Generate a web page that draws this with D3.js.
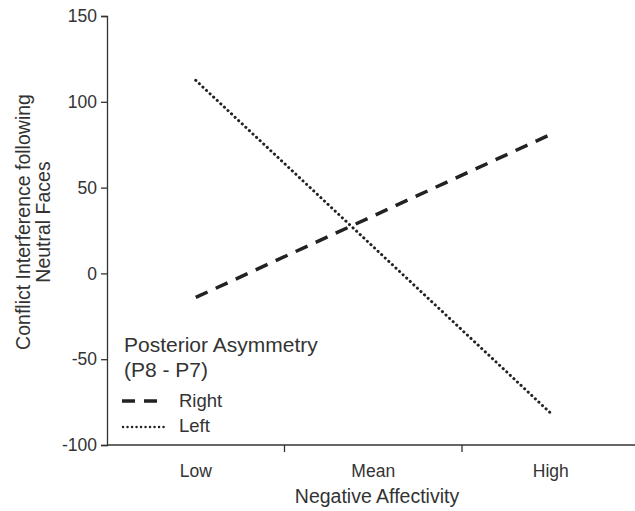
<!DOCTYPE html>
<html>
<head>
<meta charset="utf-8">
<script src="https://cdn.jsdelivr.net/npm/d3@7"></script>
<style>
  body { margin: 0; background: #fff; }
  text { font-family: "Liberation Sans", Arial, sans-serif; fill: #333; }
</style>
</head>
<body>
<div id="vis"></div>
<script>
const width = 635;
const height = 511;

// data
const categories = ['Low', 'Mean', 'High'];
const rightValues = [-14, 33.5, 81];
const leftValues = [112.5, 15.5, -81.5];
const yTicks = [-100, -50, 0, 50, 100, 150];

const margin = {left: 107, top: 16, bottom: 66};

const svg = d3.select('#vis')
    .append('svg')
    .attr('width', width)
    .attr('height', height);

const x = d3.scaleBand()
    .domain(categories)
    .range([margin.left, margin.left + 177.5 * 3]);

const y = d3.scaleLinear()
    .domain([-100, 150])
    .range([height - margin.bottom, margin.top]);

// y axis
const yAxis = svg.append('g')
    .attr('transform', `translate(${margin.left},0)`)
    .call(d3.axisLeft(y).tickValues(yTicks).tickSize(6).tickPadding(4)
        .tickFormat(d => String(d)));
yAxis.selectAll('text').style('font-size', '17.5px').attr('fill', '#333');
yAxis.selectAll('line, path').attr('stroke', '#333').attr('stroke-width', 1.3);

// x axis: ticks sit between categories
const xAxis = svg.append('g')
    .attr('transform', `translate(0,${y(-100)})`);
xAxis.append('line')
    .attr('x1', margin.left).attr('x2', width)
    .attr('stroke', '#333').attr('stroke-width', 1.3);
xAxis.selectAll('.tick')
    .data(categories.slice(1))
    .join('line')
    .attr('x1', d => x(d)).attr('x2', d => x(d))
    .attr('y1', 0).attr('y2', 7)
    .attr('stroke', '#333').attr('stroke-width', 1.3);
xAxis.selectAll('.lab')
    .data(categories)
    .join('text')
    .attr('x', d => x(d) + x.bandwidth() / 2)
    .attr('y', 32)
    .attr('text-anchor', 'middle')
    .style('font-size', '17.5px')
    .text(d => d);

// axis titles
svg.append('text')
    .attr('x', 377).attr('y', 503)
    .attr('text-anchor', 'middle')
    .style('font-size', '19.5px')
    .text('Negative Affectivity');

const yTitle = svg.append('text')
    .attr('transform', 'translate(30,222) rotate(-90)')
    .attr('text-anchor', 'middle')
    .style('font-size', '19.5px');
yTitle.append('tspan').attr('x', 0).attr('dy', 0).text('Conflict Interference following');
yTitle.append('tspan').attr('x', 0).attr('dy', 20).text('Neutral Faces');

// lines
const line = d3.line()
    .x((d, i) => x(categories[i]) + x.bandwidth() / 2)
    .y(d => y(d));

svg.append('path')
    .datum(rightValues)
    .attr('d', line)
    .attr('fill', 'none')
    .attr('stroke', '#222')
    .attr('stroke-width', 3.5)
    .attr('stroke-dasharray', '13 9');

svg.append('path')
    .datum(leftValues)
    .attr('d', line)
    .attr('fill', 'none')
    .attr('stroke', '#222')
    .attr('stroke-width', 3)
    .attr('stroke-linecap', 'round')
    .attr('stroke-dasharray', '0.1 4.8');

// legend
const legend = svg.append('g');
legend.append('text').attr('x', 124).attr('y', 352)
    .style('font-size', '21px').text('Posterior Asymmetry');
legend.append('text').attr('x', 124).attr('y', 377)
    .style('font-size', '21px').text('(P8 - P7)');

legend.append('line')
    .attr('x1', 122).attr('x2', 161).attr('y1', 401).attr('y2', 401)
    .attr('stroke', '#222').attr('stroke-width', 3.5)
    .attr('stroke-dasharray', '13 9');
legend.append('text').attr('x', 179).attr('y', 407)
    .style('font-size', '18.5px').text('Right');

legend.append('line')
    .attr('x1', 123).attr('x2', 168).attr('y1', 427).attr('y2', 427)
    .attr('stroke', '#222').attr('stroke-width', 2.4)
    .attr('stroke-linecap', 'round')
    .attr('stroke-dasharray', '0.1 4.4');
legend.append('text').attr('x', 179).attr('y', 432)
    .style('font-size', '18.5px').text('Left');
</script>
</body>
</html>
